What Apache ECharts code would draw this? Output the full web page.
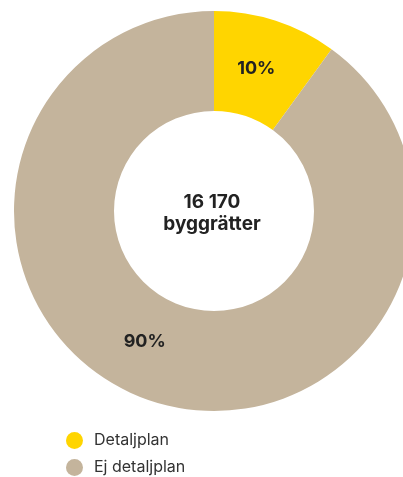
<!DOCTYPE html>
<html>
<head>
<meta charset="utf-8">
<script src="https://cdn.jsdelivr.net/npm/echarts@6/dist/echarts.min.js"></script>
<style>
  html, body { margin: 0; padding: 0; background: #fff; }
  #chart { width: 403px; height: 477px; }
</style>
</head>
<body>
<div id="chart"></div>
<script>
const categories = ['Detaljplan', 'Ej detaljplan']
const shares = [10, 90]
const colors = ['#FFD500', '#C4B49C']
const totalLabel = '16 170'
const unitLabel = 'byggrätter'

const chart = echarts.init(document.getElementById('chart'))

const option = {
  animation: false,
  color: colors,
  title: {
    text: totalLabel + '\n' + unitLabel,
    left: 212,
    top: 191,
    padding: 0,
    textAlign: 'center',
    textStyle: {
      fontFamily: 'Inter',
      fontWeight: 'bold',
      fontSize: 19,
      lineHeight: 22,
      color: '#222'
    }
  },
  legend: {
    orient: 'vertical',
    left: 66,
    top: 432,
    height: 60,
    padding: 0,
    icon: 'circle',
    itemWidth: 17,
    itemHeight: 17,
    itemGap: 10,
    textStyle: {
      fontFamily: 'Inter',
      fontSize: 16,
      color: '#333',
      padding: [0, 0, 0, 6]
    },
    data: categories
  },
  series: [
    {
      type: 'pie',
      center: [214, 211],
      radius: [100, 200],
      startAngle: 90,
      silent: true,
      label: {
        position: 'inside',
        formatter: '{c}%',
        fontFamily: 'Inter',
        fontWeight: 'bold',
        fontSize: 18,
        color: '#222'
      },
      labelLine: { show: false },
      // etiketterna ligger lite närmare vänster kant än sektorns mitt
      labelLayout: function (params) {
        if (params.dataIndex === 1) {
          return { dx: -22, dy: -15 }
        }
        return { dx: -5, dy: 3 }
      },
      data: categories.map((name, i) => ({ name: name, value: shares[i] }))
    }
  ]
}

chart.setOption(option)
</script>
</body>
</html>
